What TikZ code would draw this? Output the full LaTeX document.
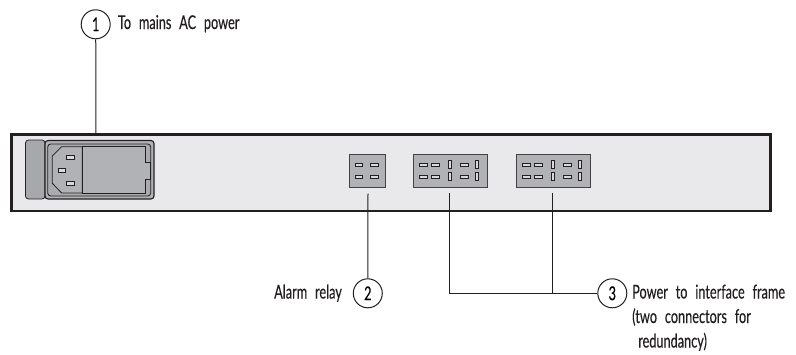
\documentclass[tikz,border=0pt]{standalone}
\usepackage{fontspec}
\setmainfont[FakeStretch=0.67,FakeBold=0.3,WordSpace={2.4,1,1}]{Lato}
\definecolor{panelfill}{HTML}{E9E9EB}
\definecolor{partfill}{HTML}{B1B2B5}
\definecolor{tabfill}{HTML}{A7A8AB}
\definecolor{slotfill}{HTML}{D9D9DB}
\definecolor{ink}{HTML}{231F20}
\tikzset{
 panelbox/.style={draw=ink,line width=2.6pt,fill=panelfill,minimum width=759pt,minimum height=76.5pt,inner sep=0pt,anchor=north west},
 connbox/.style={draw=ink!85,line width=1pt,fill=partfill,minimum height=33pt,inner sep=0pt,anchor=north west},
 slotpin/.style={draw=ink,line width=.8pt,fill=slotfill},
 leader/.style={draw=ink,line width=1pt},
 callout/.style={circle,draw=ink,line width=1pt,fill=white,minimum size=29pt,inner sep=0pt,font=\fontsize{19}{19}\selectfont},
 lbl/.style={anchor=base west,inner sep=0pt,text=ink,font=\fontsize{19}{19}\selectfont},
 part/.style={draw=ink,line width=.8pt,fill=partfill},
}
\newcommand{\hpin}[2]{\draw[slotpin] (#1,#2) rectangle ++(7.5,2.9);}
\newcommand{\vpin}[2]{\draw[slotpin] (#1,#2) rectangle ++(3,8);}
\begin{document}
\begin{tikzpicture}[x=1pt,y=-1pt]
\useasboundingbox (0,0) rectangle (796,354);
% panel
\node[panelbox] (panel) at (10.3,133.3) {};
% power inlet
\draw[draw=ink,line width=.8pt,fill=tabfill,rounded corners=3pt] (45,140) -- (25.5,140) -- (25.5,199) -- (45,199) -- cycle;
\draw[part,line width=1.1pt,rounded corners=3pt] (45,140.5) rectangle (154,199);
\draw[part,fill=tabfill!70!partfill,rounded corners=3pt] (47.7,144) rectangle (150.7,196);
\draw[part] (82.3,146.7) -- (61.7,146.7) -- (52.3,156) -- (52.3,183.3) -- (61.7,193) -- (82.3,193) -- cycle;
\draw[part] (82.3,146.7) -- (145,146.7) -- (145,162.3) -- (150.5,162.3) -- (150.5,179.3) -- (145,179.3) -- (145,193) -- (82.3,193) -- cycle;
\draw[slotpin] (66.7,155.5) rectangle (74.3,159.6);
\draw[slotpin] (58.5,168.7) rectangle (65.7,172.7);
\draw[slotpin] (66.7,181.4) rectangle (74.3,185.3);
% connectors
\node[connbox,minimum width=36.5pt] (relay) at (348.5,154) {};
\node[connbox,minimum width=74.5pt] (pwra) at (412.8,154) {};
\node[connbox,minimum width=74.5pt] (pwrb) at (515.8,154) {};
\foreach \y in {163.5,175.4}{\hpin{355.2}{\y}\hpin{370.6}{\y}}
\foreach \dx in {0,103}{
 \foreach \y in {163.5,175.4}{
  \hpin{419.5+\dx}{\y}\hpin{431.5+\dx}{\y}\hpin{460.7+\dx}{\y}
 }
 \foreach \y in {160.5,172.5}{
  \vpin{448.5+\dx}{\y}\vpin{475.5+\dx}{\y}
 }
}
% callouts
\node[callout] (c1) at (95.7,24.3) {1};
\node[callout] (c2) at (367.8,293.3) {2};
\node[callout] (c3) at (612.3,293.3) {3};
\coordinate (inletpt) at (96,135.5);
\coordinate (relayend) at (368,193.5);
\coordinate (pwraend) at (449,193);
\coordinate (pwrbend) at (552.3,193);
\draw[leader] (c1) -- (inletpt);
\draw[leader] (relayend) -- (c2);
\draw[leader] (pwraend) |- (c3);
\draw[leader] (pwrbend) -- (pwrbend |- c3);
% labels
\node[lbl] (t1) at (117.7,29) {To mains AC power};
\node[lbl] (t2) at (274,298.5) {Alarm relay};
\node[lbl] (t3) at (632,298.5) {Power to interface frame};
\node[lbl] (t4) at (632,323) {(two connectors for};
\node[lbl] (t5) at (638,347.5) {redundancy)};
\end{tikzpicture}
\end{document}
